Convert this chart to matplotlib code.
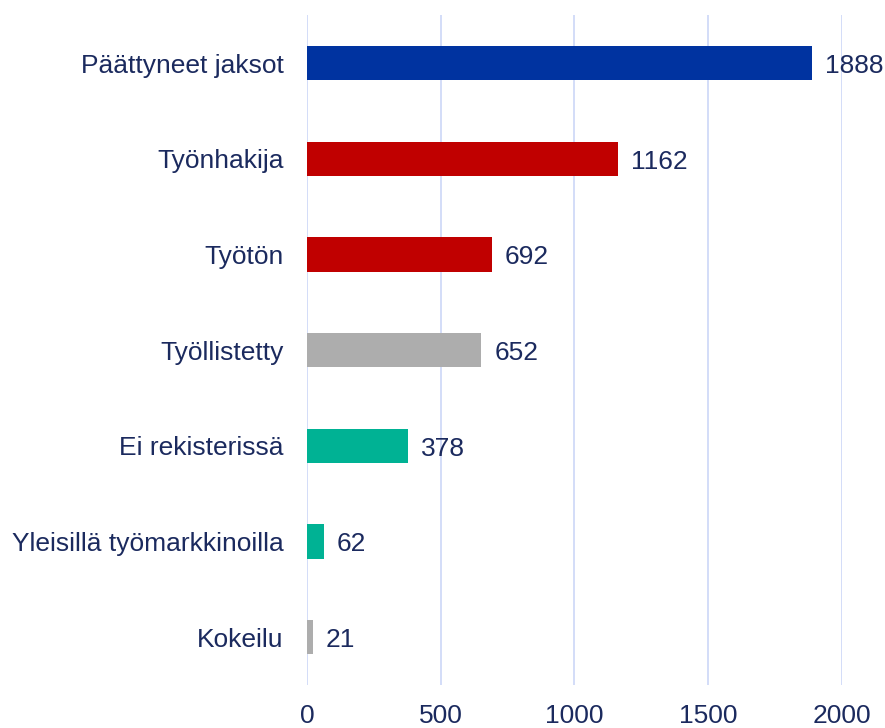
import matplotlib.pyplot as plt

plt.rcParams['font.family'] = ['Liberation Sans', 'DejaVu Sans']

kategoriat = ["Päättyneet jaksot", "Työnhakija", "Työtön", "Työllistetty",
              "Ei rekisterissä", "Yleisillä työmarkkinoilla", "Kokeilu"]
arvot = [1888, 1162, 692, 652, 378, 62, 21]
varit = ["#0033A0", "#C00000", "#C00000", "#ADADAD", "#00B294", "#00B294", "#ADADAD"]
x_tikit = [0, 500, 1000, 1500, 2000]

teksti = "#1B2A5E"

fig = plt.figure(figsize=(8.85, 7.28), dpi=100)
ax = fig.add_axes([0.3469, 0.059, 0.6045, 0.92])

y = list(range(len(kategoriat)))
ax.barh(y, arvot, height=0.36, color=varit, zorder=3)
for yi, v in zip(y, arvot):
    ax.text(v + 48, yi + 0.03, str(v), va='center', ha='left', fontsize=19,
            color=teksti, clip_on=False)

ax.set_xlim(0, 2000)
ax.set_ylim(len(kategoriat) - 0.5, -0.5)
ax.set_yticks(y)
ax.set_yticklabels(kategoriat)
ax.set_xticks(x_tikit)
ax.tick_params(axis='y', length=0, pad=17, labelsize=19, labelcolor=teksti)
ax.tick_params(axis='x', length=0, pad=14, labelsize=19, labelcolor=teksti)
ax.grid(axis='x', color='#D0DAF8', linewidth=1.3, zorder=0)
for s in ax.spines.values():
    s.set_visible(False)

fig.savefig("out.png", dpi=100)
